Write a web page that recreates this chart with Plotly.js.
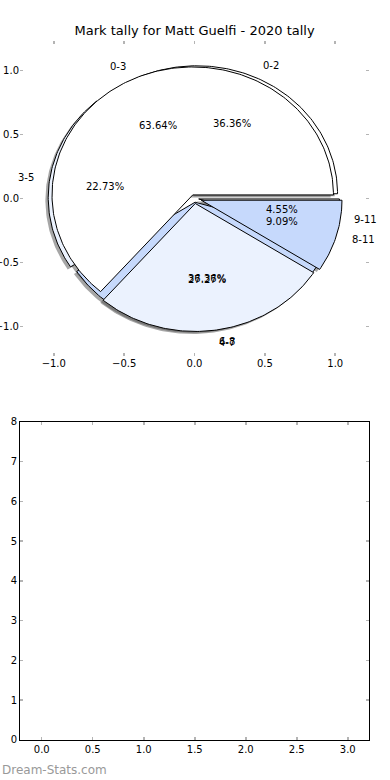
<!DOCTYPE html>
<html>
<head>
<meta charset="utf-8">
<script src="https://cdn.plot.ly/plotly-3.0.1.min.js"></script>
<style>
  html, body { margin: 0; padding: 0; background: #ffffff; }
  #chart { width: 390px; height: 780px; }
</style>
</head>
<body>
<div id="chart"></div>
<script>
// ---- Data ----
const chartTitle = 'Mark tally for Matt Guelfi - 2020 tally';
const labelsA = ['0-2', '3-5', '6-8', '9-11'];
const valuesA = [8, 5, 8, 1];
const labelsB = ['0-3', '4-7', '8-11'];
const valuesB = [14, 6, 2];
const pieTicks = [-1.0, -0.5, 0.0, 0.5, 1.0];
const barYTicks = [0, 1, 2, 3, 4, 5, 6, 7, 8];
const barXTicks = [0.0, 0.5, 1.0, 1.5, 2.0, 2.5, 3.0];
const watermark = 'Dream-Stats.com';

// ---- Styling (not data) ----
const sliceColors = ['#ffffff', '#ebf2fe', '#c6d9fc', '#ffffff'];
const explodeA = [0.04, 0.04, 0.03, 0.03];
const explodeB = [0.03, 0.04, 0.05];
const FONT = 'DejaVu Sans, sans-serif';
const TICKC = '#b4b4b4';

function wedges(values, labels, explode) {
  const total = values.reduce((a, b) => a + b, 0);
  let cum = 0;
  return values.map((v, i) => {
    const t1 = 360 * cum / total;
    const t2 = 360 * (cum + v) / total;
    cum += v;
    const mid = (t1 + t2) / 2 * Math.PI / 180;
    const cx = explode[i] * Math.cos(mid);
    const cy = explode[i] * Math.sin(mid);
    const xs = [cx], ys = [cy];
    const n = Math.max(2, Math.ceil((t2 - t1) / 1));
    for (let k = 0; k <= n; k++) {
      const a = (t1 + (t2 - t1) * k / n) * Math.PI / 180;
      xs.push(cx + Math.cos(a));
      ys.push(cy + Math.sin(a));
    }
    xs.push(cx); ys.push(cy);
    return {
      xs, ys, cx, cy, mid, color: sliceColors[i], label: labels[i],
      pct: (100 * v / total).toFixed(2) + '%'
    };
  });
}

const wA = wedges(valuesA, labelsA, explodeA);
const wB = wedges(valuesB, labelsB, explodeB);

const traces = [];
// shadows (drawn beneath every wedge)
[wA, wB].forEach(ws => ws.forEach(w => {
  traces.push({
    type: 'scatter', mode: 'lines', xaxis: 'x', yaxis: 'y',
    x: w.xs.map(v => v - 0.02), y: w.ys.map(v => v - 0.02),
    fill: 'toself', fillcolor: 'rgba(77,77,77,0.5)',
    line: { width: 0 }, hoverinfo: 'skip', showlegend: false
  });
}));
// wedges, pie A then pie B
[wA, wB].forEach(ws => ws.forEach(w => {
  traces.push({
    type: 'scatter', mode: 'lines', xaxis: 'x', yaxis: 'y',
    x: w.xs, y: w.ys, name: w.label,
    fill: 'toself', fillcolor: w.color,
    line: { width: 1, color: '#000000' }, showlegend: false
  });
}));
// empty bottom axes
traces.push({ type: 'scatter', mode: 'markers', x: [], y: [], xaxis: 'x2', yaxis: 'y2', showlegend: false });

const annotations = [];
[wA, wB].forEach(ws => ws.forEach(w => {
  const lx = w.cx + 1.1 * Math.cos(w.mid);
  const ly = w.cy + 1.1 * Math.sin(w.mid);
  annotations.push({
    xref: 'x', yref: 'y', x: lx, y: ly, text: w.label, showarrow: false,
    xanchor: lx > 0 ? 'left' : 'right', yanchor: 'middle',
    font: { family: FONT, size: 10, color: '#000' }
  });
  annotations.push({
    xref: 'x', yref: 'y', x: w.cx + 0.6 * Math.cos(w.mid), y: w.cy + 0.6 * Math.sin(w.mid),
    text: w.pct, showarrow: false, xanchor: 'center', yanchor: 'middle',
    font: { family: FONT, size: 10, color: '#000' }
  });
}));
annotations.push({
  xref: 'paper', yref: 'paper', x: -20 / 349, y: -30 / 699, xanchor: 'left', yanchor: 'middle',
  text: watermark, showarrow: false, font: { family: FONT, size: 12, color: '#999999' }
});

const tickCommon = {
  ticks: 'inside', ticklen: 3, tickwidth: 1.5, tickcolor: TICKC,
  showgrid: false, zeroline: false, mirror: 'ticks',
  tickfont: { family: FONT, size: 10, color: '#000' }, fixedrange: true
};

const layout = {
  width: 390, height: 780,
  margin: { l: 20, r: 21, t: 41, b: 40 },
  paper_bgcolor: '#ffffff', plot_bgcolor: 'rgba(0,0,0,0)',
  showlegend: false,
  title: {
    text: chartTitle, x: 0.499, xref: 'container', xanchor: 'center',
    y: 1 - 30 / 780, yref: 'container', yanchor: 'middle',
    font: { family: FONT, size: 13, color: '#000' }
  },
  xaxis: Object.assign({}, tickCommon, {
    domain: [0, 1], anchor: 'y', range: [-1.24, 1.24],
    tickmode: 'array', tickvals: pieTicks, tickformat: '.1f', showline: false
  }),
  yaxis: Object.assign({}, tickCommon, {
    domain: [0.5496, 1], anchor: 'x', range: [-1.23, 1.23],
    tickmode: 'array', tickvals: pieTicks, tickformat: '.1f', showline: false
  }),
  xaxis2: Object.assign({}, tickCommon, {
    domain: [0, 1], anchor: 'y2', range: [-0.213, 3.208],
    tickmode: 'array', tickvals: barXTicks, tickformat: '.1f',
    showline: true, linecolor: '#000', linewidth: 1
  }),
  yaxis2: Object.assign({}, tickCommon, {
    domain: [0, 0.4554], anchor: 'x2', range: [0, 8],
    tickmode: 'array', tickvals: barYTicks, tickformat: 'd',
    showline: true, linecolor: '#000', linewidth: 1
  }),
  annotations: annotations
};

Plotly.newPlot('chart', traces, layout, { displayModeBar: false, staticPlot: true });
</script>
</body>
</html>
